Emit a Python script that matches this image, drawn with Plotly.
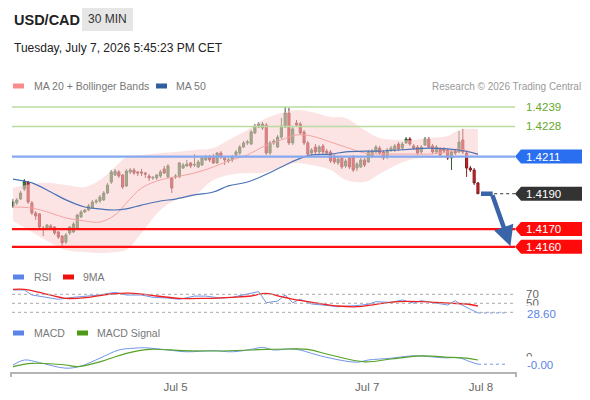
import plotly.graph_objects as go

# candles, 30 min USD/CAD
opens = [1.41831, 1.41848, 1.41870, 1.41927, 1.41966, 1.41848, 1.41791, 1.41786, 1.41706, 1.41706,
         1.41718, 1.41712, 1.41684, 1.41661, 1.41627, 1.41678, 1.41684, 1.41706, 1.41769, 1.41797,
         1.41808, 1.41819, 1.41853, 1.41859, 1.41865, 1.41904, 1.41966, 1.42006, 1.42023, 1.42006,
         1.41944, 1.42023, 1.42034, 1.42023, 1.42023, 1.42017, 1.42000, 1.41989, 1.41989, 1.42000,
         1.42040, 1.41995, 1.41989, 1.41995, 1.41995, 1.42045, 1.42057, 1.42074, 1.42062, 1.42051,
         1.42062, 1.42091, 1.42108, 1.42108, 1.42074, 1.42130, 1.42102, 1.42085, 1.42091, 1.42119,
         1.42130, 1.42164, 1.42187, 1.42181, 1.42243, 1.42277, 1.42271, 1.42288, 1.42130, 1.42187,
         1.42164, 1.42220, 1.42277, 1.42356, 1.42187, 1.42300, 1.42294, 1.42249, 1.42187, 1.42130,
         1.42164, 1.42136, 1.42170, 1.42141, 1.42136, 1.42113, 1.42074, 1.42102, 1.42057, 1.42102,
         1.42108, 1.42045, 1.42051, 1.42091, 1.42079, 1.42108, 1.42136, 1.42158, 1.42136, 1.42108,
         1.42147, 1.42147, 1.42181, 1.42158, 1.42187, 1.42209, 1.42170, 1.42164, 1.42136, 1.42175,
         1.42209, 1.42170, 1.42136, 1.42153, 1.42153, 1.42147, 1.42102, 1.42141, 1.42136, 1.42204,
         1.42130, 1.42045, 1.42034, 1.41961]
highs = [1.41870, 1.41876, 1.41915, 1.41983, 1.41972, 1.41859, 1.41802, 1.41791, 1.41718, 1.41729,
         1.41729, 1.41718, 1.41689, 1.41667, 1.41678, 1.41718, 1.41740, 1.41786, 1.41808, 1.41814,
         1.41842, 1.41865, 1.41870, 1.41893, 1.41915, 1.41961, 1.42034, 1.42040, 1.42034, 1.42011,
         1.42040, 1.42045, 1.42045, 1.42028, 1.42040, 1.42023, 1.42011, 1.42000, 1.42011, 1.42034,
         1.42057, 1.42068, 1.41995, 1.42011, 1.42079, 1.42074, 1.42091, 1.42079, 1.42124, 1.42091,
         1.42113, 1.42119, 1.42119, 1.42124, 1.42136, 1.42141, 1.42113, 1.42102, 1.42119, 1.42147,
         1.42175, 1.42198, 1.42204, 1.42260, 1.42294, 1.42305, 1.42305, 1.42300, 1.42198, 1.42209,
         1.42232, 1.42328, 1.42390, 1.42384, 1.42277, 1.42317, 1.42305, 1.42260, 1.42198, 1.42158,
         1.42181, 1.42175, 1.42181, 1.42153, 1.42147, 1.42124, 1.42108, 1.42113, 1.42096, 1.42113,
         1.42119, 1.42079, 1.42102, 1.42102, 1.42147, 1.42153, 1.42175, 1.42170, 1.42147, 1.42158,
         1.42170, 1.42181, 1.42192, 1.42192, 1.42220, 1.42220, 1.42181, 1.42175, 1.42175, 1.42220,
         1.42220, 1.42181, 1.42175, 1.42164, 1.42164, 1.42158, 1.42147, 1.42153, 1.42254, 1.42266,
         1.42141, 1.42057, 1.42045, 1.41966]
lows = [1.41819, 1.41836, 1.41865, 1.41915, 1.41842, 1.41780, 1.41752, 1.41706, 1.41661, 1.41695,
        1.41695, 1.41667, 1.41644, 1.41605, 1.41616, 1.41667, 1.41678, 1.41701, 1.41763, 1.41791,
        1.41802, 1.41814, 1.41842, 1.41848, 1.41859, 1.41898, 1.41955, 1.42000, 1.41989, 1.41927,
        1.41938, 1.42011, 1.42006, 1.42000, 1.42000, 1.41989, 1.41972, 1.41978, 1.41978, 1.41989,
        1.42011, 1.41989, 1.41904, 1.41983, 1.41989, 1.42040, 1.42051, 1.42045, 1.42051, 1.42045,
        1.42057, 1.42085, 1.42079, 1.42068, 1.42068, 1.42096, 1.42062, 1.42074, 1.42079, 1.42108,
        1.42119, 1.42158, 1.42175, 1.42175, 1.42237, 1.42271, 1.42260, 1.42119, 1.42119, 1.42175,
        1.42158, 1.42209, 1.42271, 1.42175, 1.42175, 1.42277, 1.42232, 1.42175, 1.42113, 1.42113,
        1.42124, 1.42124, 1.42124, 1.42119, 1.42074, 1.42068, 1.42062, 1.42040, 1.42045, 1.42040,
        1.42023, 1.42028, 1.42045, 1.42051, 1.42074, 1.42102, 1.42130, 1.42119, 1.42091, 1.42096,
        1.42136, 1.42136, 1.42141, 1.42147, 1.42181, 1.42170, 1.42147, 1.42119, 1.42124, 1.42170,
        1.42153, 1.42124, 1.42124, 1.42108, 1.42130, 1.42091, 1.42034, 1.42119, 1.42130, 1.42124,
        1.41995, 1.42023, 1.41949, 1.41898]
closes = [1.41853, 1.41865, 1.41904, 1.41972, 1.41853, 1.41791, 1.41774, 1.41712, 1.41701, 1.41723,
          1.41706, 1.41678, 1.41655, 1.41622, 1.41667, 1.41712, 1.41729, 1.41780, 1.41797, 1.41808,
          1.41831, 1.41853, 1.41859, 1.41881, 1.41904, 1.41949, 1.42023, 1.42028, 1.42000, 1.41938,
          1.42028, 1.42034, 1.42017, 1.42017, 1.42017, 1.42011, 1.41989, 1.41992, 1.42006, 1.42023,
          1.42017, 1.42057, 1.41932, 1.42000, 1.42074, 1.42062, 1.42068, 1.42057, 1.42065, 1.42079,
          1.42102, 1.42108, 1.42091, 1.42074, 1.42130, 1.42108, 1.42091, 1.42091, 1.42108, 1.42136,
          1.42164, 1.42187, 1.42192, 1.42249, 1.42283, 1.42294, 1.42294, 1.42130, 1.42187, 1.42198,
          1.42220, 1.42283, 1.42356, 1.42187, 1.42266, 1.42288, 1.42243, 1.42187, 1.42124, 1.42147,
          1.42136, 1.42164, 1.42136, 1.42130, 1.42085, 1.42079, 1.42096, 1.42051, 1.42085, 1.42051,
          1.42034, 1.42068, 1.42091, 1.42062, 1.42136, 1.42141, 1.42164, 1.42130, 1.42102, 1.42147,
          1.42158, 1.42170, 1.42153, 1.42181, 1.42209, 1.42181, 1.42158, 1.42130, 1.42164, 1.42209,
          1.42164, 1.42136, 1.42164, 1.42119, 1.42141, 1.42102, 1.42136, 1.42130, 1.42192, 1.42136,
          1.42045, 1.42034, 1.41961, 1.41900]

# MA20, bollinger bands, MA50 read at these candle positions
band_idx = [0, 5, 10, 14, 19, 23, 27, 30, 34, 39, 43, 48, 53, 57, 62, 66, 71, 75, 79, 84,
            88, 93, 97, 102, 106, 110, 115, 118, 123]
ma20 = [1.41825, 1.41819, 1.41791, 1.41763, 1.41746, 1.41740, 1.41780, 1.41848, 1.41932, 1.41978,
        1.41995, 1.42017, 1.42051, 1.42085, 1.42119, 1.42164, 1.42204, 1.42232, 1.42226, 1.42192,
        1.42164, 1.42130, 1.42124, 1.42124, 1.42124, 1.42124, 1.42136, 1.42153, 1.42119]
bb_upper = [1.41932, 1.41955, 1.41961, 1.41949, 1.41938, 1.41978, 1.42051, 1.42108, 1.42119, 1.42130,
            1.42136, 1.42147, 1.42158, 1.42204, 1.42260, 1.42317, 1.42356, 1.42373, 1.42362, 1.42334,
            1.42328, 1.42260, 1.42215, 1.42204, 1.42204, 1.42215, 1.42226, 1.42260, 1.42266]
bb_lower = [1.41746, 1.41684, 1.41622, 1.41582, 1.41571, 1.41565, 1.41571, 1.41582, 1.41678, 1.41808,
            1.41865, 1.41893, 1.41978, 1.42006, 1.42017, 1.42017, 1.42051, 1.42074, 1.42062, 1.42034,
            1.41978, 1.41966, 1.42011, 1.42068, 1.42096, 1.42102, 1.42102, 1.42108, 1.42119]
ma50 = [1.41983, 1.41961, 1.41910, 1.41865, 1.41825, 1.41814, 1.41808, 1.41814, 1.41836, 1.41859,
        1.41870, 1.41893, 1.41910, 1.41944, 1.41966, 1.42000, 1.42051, 1.42091, 1.42119, 1.42124,
        1.42136, 1.42141, 1.42141, 1.42147, 1.42153, 1.42158, 1.42153, 1.42147, 1.42124]

# RSI + 9MA
rsi_idx = [0, 3, 5, 8, 12, 16, 20, 23, 27, 30, 34, 37, 41, 44, 48, 51, 55, 58, 62, 65,
           67, 70, 72, 74, 76, 79, 82, 86, 91, 94, 96, 100, 103, 106, 108, 112, 115, 117, 118, 121, 123]
rsi = [79.6, 79.6, 68.5, 64.7, 58.9, 63.3, 66.2, 68.5, 74.4, 68.4, 68.4, 63.3, 61.6, 59.0, 66.0,
       66.0, 61.6, 63.3, 70.7, 75.8, 51.3, 55.0, 68.5, 51.3, 59.0, 48.4, 46.2, 42.4, 45.0, 47.8,
       53.6, 52.0, 57.3, 50.5, 55.8, 49.5, 46.2, 55.8, 49.5, 36.7, 28.6]
ma9_idx = [0, 3, 8, 14, 20, 26, 32, 38, 44, 51, 58, 63, 67, 71, 73, 78, 82, 86, 91, 96,
           102, 108, 116, 120, 123]
rsi_ma9 = [81, 81, 72.2, 61, 63.3, 70.7, 72.2, 66.2, 61, 61, 63.3, 66.2, 72.2, 64.7, 61,
           53.6, 48.4, 44, 42.4, 47.8, 53.6, 53.6, 50, 48.4, 44]

# MACD
macd_idx = [0, 3, 7, 14, 18, 23, 28, 32, 35, 41, 46, 53, 58, 63, 66, 69, 73, 76, 79, 84,
            91, 94, 100, 105, 108, 114, 118, 121, 123]
macd = [-0.0002, -0.000075, -0.00014, -0.00028, -0.000225, -0.00003, 0.000175, 0.00022, 0.00023, 0.000175,
        0.00013, 0.00016, 0.00013, 0.00019, 0.00024, 0.000175, 0.0002, 0.000175, 0.00009, -0.00003,
        -0.00013, -0.000075, -0.00003, 0.000025, 0.000025, -0.00002, -0.00002, -0.00012, -0.00018]
sig_idx = [0, 5, 14, 17, 23, 30, 36, 45, 54, 63, 67, 73, 78, 84, 93, 100, 108, 116, 120, 123]
macd_signal = [-0.00024, -0.00016, -0.0002, -0.00024, -0.00012, 0.00009, 0.00019, 0.00016, 0.00015, 0.000175,
               0.00019, 0.0002, 0.00019, 0.00005, -0.00012, -0.00005, 0.00003, -0.00001, -0.00003, -0.000075]

resistances = [1.4239, 1.4228]
pivot = 1.4211
last_price = 1.4190
supports = [1.4170, 1.4160]

tick_pos = [43, 93.7, 123.8]
tick_text = ["Jul 5", "Jul 7", "Jul 8"]

# the page puts the figure 8px in from the window corner
OFF = 8
W, H = 590 - OFF, 400 - OFF
FONT = "Liberation Sans, Arial, sans-serif"


def px(x):
    return (x - OFF) / W


def py(y):
    return 1 - (y - OFF) / H


# panel geometry (paper) and ranges
main_dom = [py(258), py(95)]
main_rng = [1.4153685, 1.424578]
rsi_dom = [py(320), py(283)]
rsi_rng = [12.9, 95.1]
macd_dom = [py(372), py(340)]
macd_rng = [-0.000375, 0.000425]
x_dom = [px(12), px(516)]
x_rng = [-0.265, 133.07]


def price_to_paper(p):
    return main_dom[0] + (p - main_rng[0]) / (main_rng[1] - main_rng[0]) * (main_dom[1] - main_dom[0])


n = len(closes)
idx = list(range(n))

fig = go.Figure()

# bollinger band fill
fig.add_trace(go.Scatter(x=band_idx, y=bb_upper, mode="lines", line=dict(width=0, shape="spline"),
                         hoverinfo="skip", showlegend=False))
fig.add_trace(go.Scatter(x=band_idx, y=bb_lower, mode="lines", line=dict(width=0, shape="spline"),
                         fill="tonexty", fillcolor="rgba(252,206,206,0.55)", hoverinfo="skip", showlegend=False))
fig.add_trace(go.Scatter(x=band_idx, y=ma20, mode="lines", line=dict(color="#f4a3a3", width=1, shape="spline"),
                         showlegend=False))
fig.add_trace(go.Scatter(x=band_idx, y=ma50, mode="lines", line=dict(color="#4a72b5", width=1.2, shape="spline"),
                         showlegend=False))

fig.add_trace(go.Candlestick(
    x=idx, open=opens, high=highs, low=lows, close=closes,
    increasing=dict(line=dict(color="#345a34", width=1), fillcolor="#2a8a33"),
    decreasing=dict(line=dict(color="#7d2222", width=1), fillcolor="#e5161d"),
    whiskerwidth=0, showlegend=False))

# RSI panel
fig.add_trace(go.Scatter(x=rsi_idx, y=rsi, mode="lines", line=dict(color="#7195ea", width=1),
                         xaxis="x2", yaxis="y2", showlegend=False))
fig.add_trace(go.Scatter(x=ma9_idx, y=rsi_ma9, mode="lines", line=dict(color="#f02020", width=1.3, shape="spline"),
                         xaxis="x2", yaxis="y2", showlegend=False))
fig.add_trace(go.Scatter(x=[rsi_idx[-1], x_rng[1] - 2.6], y=[rsi[-1], rsi[-1]], mode="lines",
                         line=dict(color="#7195ea", width=1, dash="dot"),
                         xaxis="x2", yaxis="y2", showlegend=False))

# MACD panel
fig.add_trace(go.Scatter(x=macd_idx, y=macd, mode="lines", line=dict(color="#7195ea", width=1, shape="spline"),
                         xaxis="x3", yaxis="y3", showlegend=False))
fig.add_trace(go.Scatter(x=sig_idx, y=macd_signal, mode="lines", line=dict(color="#56a326", width=1.2, shape="spline"),
                         xaxis="x3", yaxis="y3", showlegend=False))
fig.add_trace(go.Scatter(x=[macd_idx[-1], x_rng[1] - 2.6], y=[macd[-1], macd[-1]], mode="lines",
                         line=dict(color="#7195ea", width=1, dash="dot"),
                         xaxis="x3", yaxis="y3", showlegend=False))

shapes = []
annotations = []


def label(x, y, text, size, color, xanchor="left", xref="paper", yref="paper", **kw):
    annotations.append(dict(xref=xref, yref=yref, x=x, y=y, text=text, showarrow=False,
                            xanchor=xanchor, yanchor="middle",
                            font=dict(size=size, color=color, family=FONT), **kw))


# key levels
for lvl in resistances:
    shapes.append(dict(type="line", xref="paper", yref="y", x0=px(12), x1=px(515), y0=lvl, y1=lvl,
                       line=dict(color="#b9dba0", width=1.5)))
    label(px(524), lvl, f"{lvl:.4f}", 11.5, "#66a82e", yref="y")

shapes.append(dict(type="line", xref="paper", yref="y", x0=px(12), x1=px(515), y0=pivot, y1=pivot,
                   line=dict(color="#85a8ef", width=2.2)))
for lvl in supports:
    shapes.append(dict(type="line", xref="paper", yref="y", x0=px(12), x1=px(515), y0=lvl, y1=lvl,
                       line=dict(color="#ff1010", width=2.2)))

# dotted line from last candle to the price tag
shapes.append(dict(type="line", xref="x", yref="y", x0=n - 1 + 4.3, x1=x_rng[1], y0=last_price, y1=last_price,
                   line=dict(color="#333333", width=1, dash="dot")))


def tag(price, color):
    yc = price_to_paper(price)
    h = 7 / H
    x_tip, x_n, x_r = px(515), px(521), px(587)
    path = (f"M {x_tip},{yc} L {x_n},{yc + h} L {x_r},{yc + h} L {x_r},{yc - h} "
            f"L {x_n},{yc - h} Z")
    shapes.append(dict(type="path", xref="paper", yref="paper", path=path, fillcolor=color,
                       line=dict(width=0)))
    label(px(524), yc, f"{price:.4f}", 11.5, "white")


tag(pivot, "#2a6ff0")
tag(last_price, "#333333")
for lvl in supports:
    tag(lvl, "#ff0a0a")

# forecast arrow
shapes.append(dict(type="line", xref="x", yref="y", x0=n - 1 + 0.8, x1=n - 1 + 3.9,
                   y0=last_price, y1=last_price, line=dict(color="#3a64a8", width=4.5)))
annotations.append(dict(xref="x", yref="y", axref="x", ayref="y", x=n - 1 + 8.6, y=supports[-1] + 0.00003,
                        ax=n - 1 + 3.7, ay=last_price, text="", showarrow=True,
                        arrowhead=2, arrowsize=0.9, arrowwidth=4.5, arrowcolor="#3a64a8", standoff=0))

# RSI guide lines and labels
for lvl in [70, 50, 30]:
    shapes.append(dict(type="line", xref="paper", yref="y2", x0=px(12), x1=px(515), y0=lvl, y1=lvl,
                       line=dict(color="#a8a8a8", width=1, dash="dot")))
label(px(524), 70, "70", 11.5, "#666666", yref="y2")
label(px(524), 50, "50", 11.5, "#666666", yref="y2")
label(px(524), rsi[-1] - 1.5, f"{rsi[-1]:.2f}", 11.5, "#5b84e8", yref="y2", bgcolor="white", borderpad=2)
label(px(524), 0, "0", 11.5, "#666666", yref="y3")
label(px(524), macd[-1] - 0.00002, f"{macd[-1]:.2f}", 11.5, "#5b84e8", yref="y3", bgcolor="white", borderpad=2)

# bottom axis end ticks
for xx in [11, 516]:
    shapes.append(dict(type="line", xref="paper", yref="paper", x0=px(xx), x1=px(xx), y0=py(372), y1=py(377),
                       line=dict(color="#b4b4b4", width=2)))

# header
label(px(12), py(20), "<b>USD/CAD</b>", 14.5, "#222222")
shapes.append(dict(type="rect", xref="paper", yref="paper", x0=px(82), x1=px(133), y0=py(31), y1=py(8),
                   fillcolor="#e6e6e6", line=dict(width=0)))
label(px(107.5), py(19.5), "30 MIN", 12, "#333333", xanchor="center")
label(px(12), py(48), "Tuesday, July 7, 2026 5:45:23 PM CET", 12, "#222222")
label(px(583), py(86), "Research © 2026 Trading Central", 10, "#9a9a9a", xanchor="right")


def legend_item(x_sw, x_txt, y, color, text):
    shapes.append(dict(type="rect", xref="paper", yref="paper", x0=px(x_sw), x1=px(x_sw + 11),
                       y0=py(y + 2.5), y1=py(y - 2.5), fillcolor=color, line=dict(width=0)))
    label(px(x_txt), py(y), text, 10.5, "#777777")


legend_item(13, 32, 86, "#f98c8c", "MA 20 + Bollinger Bands")
legend_item(156, 174, 86, "#2f5f9f", "MA 50")
legend_item(13, 32, 277, "#5b84e8", "RSI")
legend_item(63, 81, 277, "#ee1111", "9MA")
legend_item(13, 32, 333, "#5b84e8", "MACD")
legend_item(77, 95, 333, "#4c9a16", "MACD Signal")

fig.update_layout(
    width=W, height=H,
    margin=dict(l=0, r=0, t=0, b=0),
    paper_bgcolor="white", plot_bgcolor="white",
    font=dict(family=FONT),
    showlegend=False,
    boxgap=0.2,
    shapes=shapes, annotations=annotations,
    xaxis=dict(domain=x_dom, range=x_rng, anchor="y", visible=False, rangeslider=dict(visible=False)),
    xaxis2=dict(domain=x_dom, matches="x", anchor="y2", visible=False),
    xaxis3=dict(domain=x_dom, matches="x", anchor="y3", showline=True, linecolor="#b4b4b4", linewidth=2,
                showgrid=False, zeroline=False, tickvals=tick_pos, ticktext=tick_text, ticks="outside",
                ticklen=3, tickcolor="rgba(0,0,0,0)", tickfont=dict(size=11.5, color="#666666", family=FONT)),
    yaxis=dict(domain=main_dom, range=main_rng, visible=False),
    yaxis2=dict(domain=rsi_dom, range=rsi_rng, visible=False),
    yaxis3=dict(domain=macd_dom, range=macd_rng, visible=False),
)

fig.write_html("out.html")
